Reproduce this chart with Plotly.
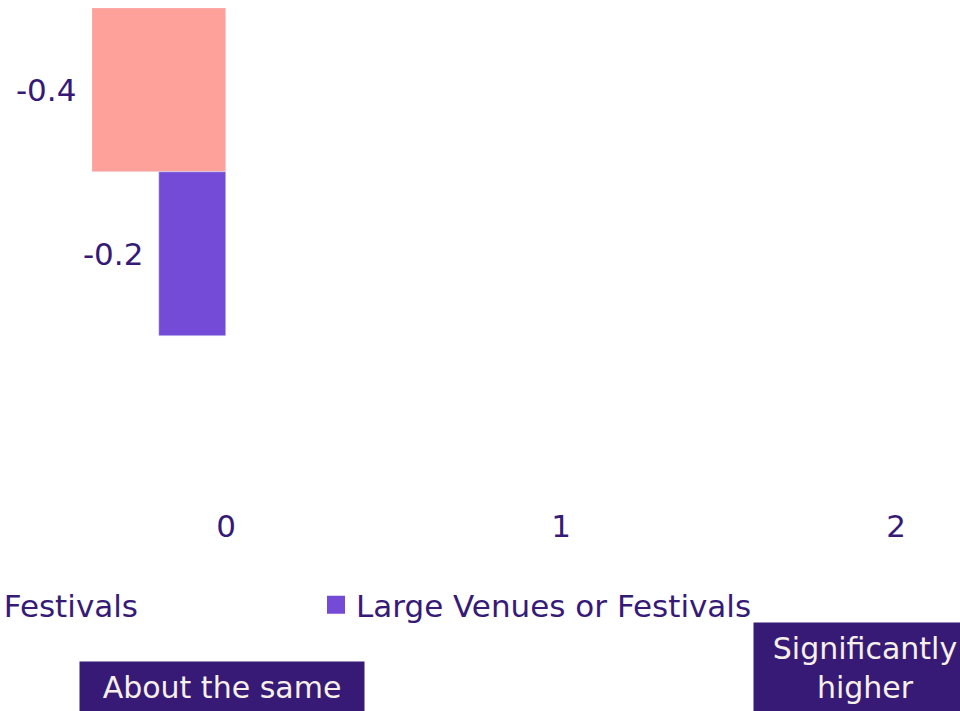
import plotly.graph_objects as go

# data
series_names = ["Small Venues or Festivals", "Large Venues or Festivals"]
series_values = [-0.4, -0.2]
series_colors = ["#FFA19B", "#734BD6"]
category = [0]
x_ticks = [0, 1, 2]
box_labels = ["About the same", "Significantly<br>higher"]

text_col = "#361A76"
font_family = "DejaVu Sans"

W, H = 960, 711
ml, mt = 92, 8
plot_h = 497
mb = H - mt - plot_h
plot_w = W - ml

fig = go.Figure()

legends = ["legend2", "legend"]
for name, val, col, lg in zip(series_names, series_values, series_colors, legends):
    fig.add_trace(go.Bar(
        x=[val], y=category, orientation="h", name=name,
        marker=dict(color=col),
        text=[f"{val:.1f}\u2009\u2009"], textposition="outside",
        textfont=dict(color=text_col, size=31, family=font_family),
        cliponaxis=False, showlegend=False,
    ))
    # legend entry with a bigger square
    fig.add_trace(go.Scatter(
        x=[None], y=[None], mode="markers", name=name, legend=lg,
        marker=dict(symbol="square", size=16, color=col, line=dict(color=col, width=2)),
    ))

px_per_unit = 335
x0 = -0.4
cat_px = 328
center_px = 172 - mt

def px_x(p):
    return (p - ml) / plot_w

def px_y(p):
    return (plot_h - (p - mt)) / plot_h

fig.update_layout(
    width=W, height=H,
    margin=dict(l=ml, r=0, t=mt, b=mb, autoexpand=False),
    paper_bgcolor="white", plot_bgcolor="white",
    font=dict(family=font_family, color=text_col, size=31),
    barmode="group", bargap=0, bargroupgap=0,
    xaxis=dict(range=[x0, x0 + plot_w / px_per_unit], tickvals=x_ticks,
               showgrid=False, zeroline=False, showline=False,
               tickfont=dict(size=31, color=text_col)),
    yaxis=dict(range=[(plot_h - center_px) / cat_px, -center_px / cat_px],
               showticklabels=False, showgrid=False, zeroline=False),
    legend=dict(orientation="h", x=px_x(316), xanchor="left",
                y=px_y(605), yanchor="middle",
                font=dict(size=31, color=text_col), bgcolor="rgba(0,0,0,0)"),
    legend2=dict(orientation="h", x=px_x(143), xanchor="right",
                 y=px_y(605), yanchor="middle",
                 font=dict(size=31, color=text_col), bgcolor="rgba(0,0,0,0)"),
)

box_x = [222, 865]
box_y = [687, 668]
box_w = [268, 206]
for lab, bx, by, bw in zip(box_labels, box_x, box_y, box_w):
    fig.add_annotation(
        text=lab, xref="paper", yref="paper", x=px_x(bx), y=px_y(by),
        xanchor="center", yanchor="middle", showarrow=False,
        bgcolor="#361A76", borderpad=8, width=bw,
        font=dict(size=30, color="#F6F0E8", family=font_family),
    )

fig.write_html("out.html", config={"displayModeBar": False},
               post_script="document.body.style.margin='0';")
